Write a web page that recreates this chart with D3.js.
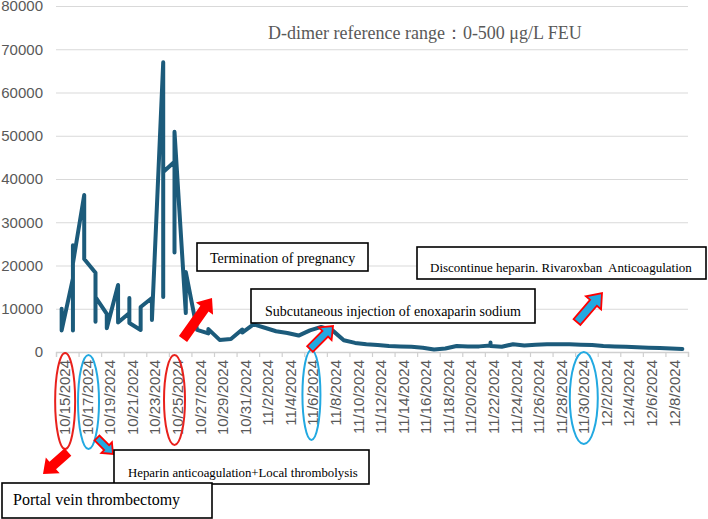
<!DOCTYPE html>
<html>
<head>
<meta charset="utf-8">
<script src="https://cdn.jsdelivr.net/npm/d3@7"></script>
<style>
  html, body { margin: 0; padding: 0; background: #ffffff; }
  svg { display: block; }
</style>
</head>
<body>
<svg id="chart" width="708" height="519"></svg>
<script>
// ---------------- DATA ----------------
const pointDates = [
  "10/15/2024","10/15/2024",
  "10/16/2024","10/16/2024","10/16/2024","10/16/2024",
  "10/17/2024","10/17/2024",
  "10/18/2024","10/18/2024","10/18/2024",
  "10/19/2024","10/19/2024",
  "10/20/2024","10/20/2024",
  "10/21/2024","10/21/2024","10/21/2024",
  "10/22/2024","10/22/2024",
  "10/23/2024","10/23/2024",
  "10/24/2024","10/24/2024","10/24/2024",
  "10/25/2024","10/25/2024","10/25/2024",
  "10/26/2024","10/26/2024",
  "10/27/2024",
  "10/28/2024","10/28/2024",
  "10/29/2024","10/30/2024",
  "10/31/2024","10/31/2024",
  "11/1/2024","11/2/2024","11/3/2024","11/4/2024","11/5/2024","11/6/2024",
  "11/7/2024","11/8/2024","11/9/2024","11/10/2024","11/11/2024","11/12/2024",
  "11/13/2024","11/14/2024","11/15/2024","11/16/2024","11/17/2024","11/18/2024",
  "11/19/2024","11/20/2024","11/21/2024",
  "11/22/2024","11/22/2024","11/22/2024",
  "11/23/2024","11/24/2024","11/25/2024","11/26/2024","11/27/2024","11/28/2024",
  "11/29/2024","11/30/2024","12/1/2024","12/2/2024","12/3/2024","12/4/2024",
  "12/5/2024","12/6/2024","12/7/2024","12/8/2024","12/9/2024"
];
const dDimer = [
  10000, 5000,
  17000, 24700, 5000, 20500,
  36300, 21500,
  18300, 7000, 12700,
  8800, 5500,
  15500, 6800,
  9000, 12500, 6700,
  5100, 10400,
  12500, 7400,
  67000, 12700, 41600,
  44000, 23000, 50900,
  9000, 18500,
  5100,
  4300, 5300,
  2800, 3000,
  5200, 4500,
  6400, 5600, 4800, 4400, 3800, 5000,
  5800, 5000, 2700, 2100, 1800, 1600,
  1400, 1300, 1200, 1000, 600, 800,
  1400, 1300, 1300,
  1500, 2200, 1400,
  1200, 1800, 1500, 1700, 1800, 1800,
  1800, 1700, 1600, 1400, 1300, 1200,
  1100, 1000, 900, 800, 700
];
const yTickValues = [0, 10000, 20000, 30000, 40000, 50000, 60000, 70000, 80000];
const xTickLabels = [
  "10/15/2024","10/17/2024","10/19/2024","10/21/2024","10/23/2024","10/25/2024",
  "10/27/2024","10/29/2024","10/31/2024","11/2/2024","11/4/2024","11/6/2024",
  "11/8/2024","11/10/2024","11/12/2024","11/14/2024","11/16/2024","11/18/2024",
  "11/20/2024","11/22/2024","11/24/2024","11/26/2024","11/28/2024","11/30/2024",
  "12/2/2024","12/4/2024","12/6/2024","12/8/2024"
];
const titleText = "D-dimer reference range\uFF1A0-500 \u03BCg/L FEU";
const noteTexts = [
  "Termination of pregnancy",
  "Subcutaneous injection of enoxaparin sodium",
  "Discontinue heparin. Rivaroxban  Anticoagulation",
  "Heparin anticoagulation+Local thrombolysis",
  "Portal vein thrombectomy"
];
const circledDates = ["10/15/2024","10/17/2024","10/25/2024","11/6/2024","11/30/2024"];

// ---------------- SETUP ----------------
const parse = d3.utcParse("%m/%d/%Y");
const svg = d3.select("#chart");
const W = 708, H = 519;
const plot = {left: 56, right: 688, top: 6, bottom: 352};

svg.append("rect").attr("width", W).attr("height", H).attr("fill", "#fff");

const firstDay = parse("10/15/2024");
const lastDay = parse("12/9/2024");
const x = d3.scaleUtc()
  .domain([d3.utcHour.offset(firstDay, -12), d3.utcHour.offset(lastDay, 12)])
  .range([plot.left, plot.right]);
const y = d3.scaleLinear().domain([0, 80000]).range([plot.bottom, plot.top]);

const data = pointDates.map((d, i) => ({date: parse(d), value: dDimer[i]}));

// gridlines + y labels
const yAxis = d3.axisLeft(y)
  .tickValues(yTickValues)
  .tickSize(-(plot.right - plot.left))
  .tickPadding(13)
  .tickFormat(d3.format("d"));
const gy = svg.append("g").attr("transform", `translate(${plot.left},0)`).call(yAxis);
gy.select(".domain").remove();
gy.selectAll(".tick line").attr("stroke", "#d9d9d9").attr("stroke-width", 1.2);
gy.selectAll(".tick text")
  .attr("fill", "#595959")
  .style("font-family", "'Liberation Sans', Arial, sans-serif")
  .style("font-size", "15px");

// x axis: tick marks at every 2-day boundary
const tickBounds = d3.range(0, 29).map(k => d3.utcHour.offset(firstDay, -12 + 48 * k));
const xAxisTicks = d3.axisBottom(x).tickValues(tickBounds).tickSize(5).tickFormat("");
const gx = svg.append("g").attr("transform", `translate(0,${plot.bottom})`).call(xAxisTicks);
gx.select(".domain").attr("stroke", "#d0d0d0").attr("stroke-width", 1.3);
gx.selectAll(".tick line").attr("stroke", "#d0d0d0").attr("stroke-width", 1.2);

// x labels
const xAxisLabels = d3.axisBottom(x).tickValues(xTickLabels.map(parse)).tickSize(0)
  .tickFormat((d, i) => xTickLabels[i]);
const gxl = svg.append("g").attr("transform", `translate(0,${plot.bottom})`).call(xAxisLabels);
gxl.select(".domain").remove();
gxl.selectAll(".tick text")
  .attr("fill", "#595959")
  .style("font-family", "'Liberation Sans', Arial, sans-serif")
  .style("font-size", "15px")
  .attr("text-anchor", "end")
  .attr("dominant-baseline", "central")
  .attr("dy", null)
  .attr("y", 0)
  .attr("transform", "translate(2.5,8) rotate(-90)");

// data line
const line = d3.line().x(d => x(d.date)).y(d => y(d.value));
svg.append("path")
  .datum(data)
  .attr("d", line)
  .attr("fill", "none")
  .attr("stroke", "#1c5b7b")
  .attr("stroke-width", 4)
  .attr("stroke-linejoin", "round")
  .attr("stroke-linecap", "round");

// title
svg.append("text")
  .attr("x", 268).attr("y", 39)
  .attr("fill", "#595959")
  .style("font-family", "'Liberation Serif', 'Times New Roman', serif")
  .style("font-size", "18px")
  .style("white-space", "pre")
  .text(titleText);

// ellipses around date labels
const ellipseSpec = [
  {color: "#e8211c", dx: 3.5, cy: 401, rx: 10, ry: 48},
  {color: "#22a9e1", dx: 4.3, cy: 402, rx: 10.5, ry: 47},
  {color: "#e8211c", dx: 0, cy: 400, rx: 10.5, ry: 45},
  {color: "#22a9e1", dx: 1.5, cy: 395, rx: 9, ry: 45},
  {color: "#22a9e1", dx: 3, cy: 398, rx: 14, ry: 46}
];
svg.append("g").selectAll("ellipse")
  .data(circledDates.map((d, i) => Object.assign({date: parse(d)}, ellipseSpec[i])))
  .join("ellipse")
  .attr("cx", d => x(d.date) + d.dx)
  .attr("cy", d => d.cy)
  .attr("rx", d => d.rx)
  .attr("ry", d => d.ry)
  .attr("fill", "none")
  .attr("stroke", d => d.color)
  .attr("stroke-width", 2);

// block arrows
function arrowPoints(x1, y1, x2, y2, sw, hw, hl) {
  const dx = x2 - x1, dy = y2 - y1, L = Math.hypot(dx, dy);
  const ux = dx / L, uy = dy / L, px = -uy, py = ux;
  const bx = x2 - ux * hl, by = y2 - uy * hl;
  const pts = [
    [x1 + px * sw / 2, y1 + py * sw / 2],
    [bx + px * sw / 2, by + py * sw / 2],
    [bx + px * hw / 2, by + py * hw / 2],
    [x2, y2],
    [bx - px * hw / 2, by - py * hw / 2],
    [bx - px * sw / 2, by - py * sw / 2],
    [x1 - px * sw / 2, y1 - py * sw / 2]
  ];
  return pts.map(p => p.join(",")).join(" ");
}
const arrows = [
  {p: [183, 339, 212, 298], sw: 10, hw: 21, hl: 13, fill: "#ff0000", stroke: "none"},
  {p: [68, 452, 43, 474], sw: 10, hw: 21, hl: 13, fill: "#ff0000", stroke: "none"},
  {p: [97, 438, 113, 454], sw: 7, hw: 15, hl: 9, fill: "#22a9e1", stroke: "#ff0000"},
  {p: [310, 349, 333, 326], sw: 8, hw: 18, hl: 11, fill: "#22a9e1", stroke: "#ff0000"},
  {p: [577, 322, 602, 293], sw: 9, hw: 20, hl: 13, fill: "#22a9e1", stroke: "#ff0000"}
];
svg.append("g").selectAll("polygon")
  .data(arrows)
  .join("polygon")
  .attr("points", d => arrowPoints(...d.p, d.sw, d.hw, d.hl))
  .attr("fill", d => d.fill)
  .attr("stroke", d => d.stroke)
  .attr("stroke-width", 1.8)
  .attr("stroke-linejoin", "miter");

// note boxes
const boxes = [
  {x: 197, y: 243, w: 171, h: 28, tx: 210, ty: 263, fs: 14},
  {x: 251, y: 289, w: 284, h: 34, tx: 265, ty: 316, fs: 14},
  {x: 417, y: 247, w: 289, h: 32, tx: 430, ty: 272, fs: 13},
  {x: 114, y: 450, w: 255, h: 34, tx: 128, ty: 477, fs: 12.8},
  {x: 2, y: 483, w: 210, h: 35, tx: 13, ty: 505, fs: 16}
];
const defs = svg.append("defs");
boxes.forEach((b, i) => {
  defs.append("clipPath").attr("id", "clip" + i)
    .append("rect").attr("x", b.x).attr("y", b.y).attr("width", b.w).attr("height", b.h - 3);
  const g = svg.append("g");
  g.append("rect")
    .attr("x", b.x).attr("y", b.y).attr("width", b.w).attr("height", b.h)
    .attr("fill", "#fff").attr("stroke", "#000").attr("stroke-width", 1.6);
  g.append("text")
    .attr("x", b.tx).attr("y", b.ty)
    .attr("clip-path", `url(#clip${i})`)
    .attr("fill", "#000")
    .style("font-family", "'Liberation Serif', 'Times New Roman', serif")
    .style("font-size", b.fs + "px")
    .style("white-space", "pre")
    .text(noteTexts[i]);
});
</script>
</body>
</html>
